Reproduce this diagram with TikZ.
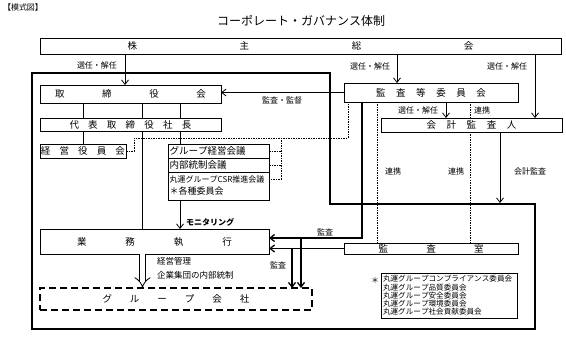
\documentclass[tikz,border=0pt]{standalone}
\usepackage{fontspec}
\setmainfont[Kerning=Off]{Noto Sans CJK JP}
\usetikzlibrary{arrows.meta,positioning}
\newcommand{\govspread}[2]{\hbox to #1{#2}}
\tikzset{
govbox/.style={draw, line width=0.8pt, inner sep=0pt, outer sep=0pt, anchor=north west, font=\fontsize{9.5}{10}\selectfont},
groupbox/.style={govbox, line width=1.4pt, dash pattern=on 7pt off 4pt},
meetbox/.style={draw, line width=0.8pt, inner xsep=1.5pt, inner ysep=0pt, outer sep=0pt, minimum width=101pt, text width=98pt, align=left, font=\fontsize{9.5}{10}\selectfont},
govline/.style={line width=0.8pt},
govarrow/.style={-{Straight Barb[length=4.5pt,width=7pt]}, line width=0.8pt},
auditarrow/.style={-{Straight Barb[length=4.5pt,width=7pt]}, line width=1.3pt},
linkdash/.style={line width=0.7pt, dash pattern=on 1.5pt off 1pt},
govlabel/.style={font=\fontsize{8}{9}\selectfont, inner sep=1pt}
}
\begin{document}
\begin{tikzpicture}[x=1pt, y=-1pt]
\useasboundingbox (0,0) rectangle (566,337);
% heading
\node[govlabel] (mark) at (23,7) {【模式図】};
\node[font=\fontsize{12}{14}\selectfont] (title) at (301,21) {コーポレート・ガバナンス体制};

% company boundary
\draw[line width=1.6pt] (32,73) -- (330,73) -- (330,204) -- (535,204) -- (535,329) -- (32,329) -- cycle;

% boxes
\node[govbox, minimum width=521pt, minimum height=16pt] (agm) at (40,38) {\govspread{346pt}{株\hfill 主\hfill 総\hfill 会}};
\node[govbox, minimum width=181pt, minimum height=18pt] (board) at (40,85) {\govspread{151pt}{取\hfill 締\hfill 役\hfill 会}};
\node[govbox, minimum width=181pt, minimum height=13pt] (ceo) at (40,118) {\govspread{122pt}{代\hfill 表\hfill 取\hfill 締\hfill 役\hfill 社\hfill 長}};
\node[govbox, minimum width=86pt, minimum height=14pt] (exec) at (40,144) {\govspread{84pt}{経\hfill 営\hfill 役\hfill 員\hfill 会}};
\node[meetbox, anchor=north west, minimum height=14pt] (gm1) at (168,144) {グループ経営会議};
\node[meetbox, minimum height=14pt, below=0pt of gm1] (gm2) {内部統制会議};
\node[meetbox, minimum height=28pt, below=0pt of gm2, font=\fontsize{9}{12}\selectfont] (gm3) {{\fontsize{8}{9}\selectfont 丸運グループCSR推進会議}\\＊各種委員会};
\node[govbox, minimum width=229pt, minimum height=25pt] (ops) at (40,229) {\govspread{155pt}{業\hfill 務\hfill 執\hfill 行}};
\node[groupbox, minimum width=272pt, minimum height=22pt] (grpco) at (40,288) {\govspread{147pt}{グ\hfill ル\hfill ー\hfill プ\hfill 会\hfill 社}};
\node[govbox, minimum width=174pt, minimum height=19pt] (ac) at (344,83) {\govspread{110pt}{監\hfill 査\hfill 等\hfill 委\hfill 員\hfill 会}};
\node[govbox, minimum width=181pt, minimum height=14pt] (auditor) at (381,118) {\govspread{90pt}{会\hfill 計\hfill 監\hfill 査\hfill 人}};
\node[govbox, minimum width=174pt, minimum height=11pt] (ia) at (344,243) {\govspread{105pt}{監\hfill 査\hfill 室}};
\node[govbox, minimum width=136pt, minimum height=45pt, inner xsep=2pt, text width=132pt, align=left, font=\fontsize{7.6}{8.2}\selectfont] (note) at (381,273) {丸運グループコンプライアンス委員会\\丸運グループ品質委員会\\丸運グループ安全委員会\\丸運グループ環境委員会\\丸運グループ社会貢献委員会};
\node[govlabel] (notemark) at (375,280) {＊};

% appointment
\draw[govarrow] (agm.south -| 125,0) -- (board.north -| 125,0);
\draw[govarrow] (agm.south -| 397,0) -- (ac.north -| 397,0);
\draw[govarrow] (agm.south -| 535,0) -- (auditor.north -| 535,0);
\node[govlabel] (elect1) at (97,65) {選任・解任};
\node[govlabel] (elect2) at (370,66) {選任・解任};
\node[govlabel] (elect3) at (507,66) {選任・解任};

% board and executives
\draw[govarrow] (ac.west) -- (ac.west -| board.east);
\node[govlabel] (supervise) at (282,100) {監査・監督};
\draw[govline] (board.south -| 83,0) -- (ceo.north -| 83,0);
\draw[govline] (board.south -| 142,0) -- (ceo.north -| 142,0);
\draw[govline] (board.south -| 180,0) -- (ceo.north -| 180,0);
\draw[govline] (ceo.south -| 83,0) -- (exec.north -| 83,0);
\draw[govline] (ceo.south -| 142,0) -- (ops.north -| 142,0);
\draw[govline] (ceo.south -| 180,0) -- (gm1.north -| 180,0);
\draw[govarrow] (gm3.south -| 180,0) -- (ops.north -| 180,0);
\node[govlabel, anchor=west, font=\fontsize{8}{9}\selectfont\bfseries] (monitor) at (185,222) {モニタリング};

% cooperation lines
\coordinate (gmbus) at (281,138);
\draw[linkdash] (exec.east) -| (134,138) -| (ac.south -| 348,0);
\draw[linkdash] (gmbus) |- ([yshift=7pt]gm3.east);
\draw[linkdash] (gm1.east) -- (gm1.east -| gmbus);
\draw[linkdash] (gm2.east) -- (gm2.east -| gmbus);
\draw[linkdash] (ac.south -| 377,0) -- (ia.north -| 377,0);
\draw[linkdash] (ac.south -| 470,0) -- (auditor.north -| 470,0);
\draw[linkdash] (auditor.south -| 470,0) -- (ia.north -| 470,0);
\node[govlabel] (link1) at (393,171) {連携};
\node[govlabel] (link2) at (456,171) {連携};
\node[govlabel] (link3) at (482,110) {連携};
\draw[govarrow] (ac.south -| 446,0) -- (auditor.north -| 446,0);
\node[govlabel] (elect4) at (418,110) {選任・解任};

% accounting audit
\coordinate (frameedge) at (500,203);
\draw[govarrow] (auditor.south -| frameedge) -- (frameedge);
\node[govlabel] (acctaudit) at (530,171) {会計監査};

% audit lines
\coordinate (jA) at (301,238);
\coordinate (jB) at (292,248.5);
\draw[auditarrow] (ac.south -| 362,0) |- ([yshift=3.5pt]ops.east);
\draw[auditarrow] (ia.west) -- (ia.west -| ops.east);
\draw[auditarrow] (jA) -- (grpco.north -| jA);
\draw[auditarrow] (jB) -- (grpco.north -| jB);
\node[govlabel] (audit1) at (325,232) {監査};
\node[govlabel] (audit2) at (278,265) {監査};

% group management
\draw[double, double distance=5pt, line width=0.8pt, -{Implies}] (ops.south -| 142.5,0) -- (grpco.north -| 142.5,0);
\node[govlabel, anchor=north west, align=left, font=\fontsize{8.5}{14}\selectfont] (mgmt) at (156,256) {経営管理\\企業集団の内部統制};
\end{tikzpicture}
\end{document}
